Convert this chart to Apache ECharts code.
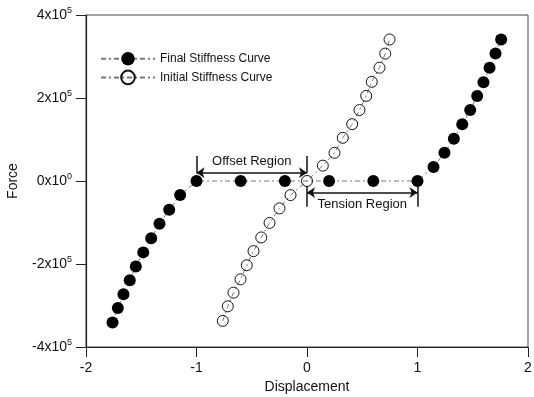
<!DOCTYPE html>
<html>
<head>
<meta charset="utf-8">
<script src="https://cdn.jsdelivr.net/npm/echarts@6/dist/echarts.min.js"></script>
<style>
  html, body { margin: 0; padding: 0; background: #fff; }
  #chart { width: 534px; height: 397px; }
</style>
</head>
<body>
<div id="chart"></div>
<script>
// Final stiffness curve (filled circles)
const finalX = [-1.760, -1.712, -1.661, -1.604, -1.549, -1.482, -1.410, -1.335, -1.247, -1.148, -1.0,
  -0.6, -0.2, 0.2, 0.6,
  1.0, 1.145, 1.244, 1.329, 1.405, 1.477, 1.540, 1.597, 1.652, 1.706, 1.757];
const finalY = [-341000, -306000, -273000, -239000, -206000, -172000, -138000, -103000, -69000, -34000, 0,
  0, 0, 0, 0,
  0, 34000, 68000, 102000, 137000, 171000, 205000, 238000, 273000, 307000, 341000];

// Initial stiffness curve (open circles)
const initialX = [-0.762, -0.717, -0.665, -0.602, -0.545, -0.484, -0.414, -0.339, -0.249, -0.149, 0,
  0.143, 0.249, 0.324, 0.409, 0.475, 0.536, 0.586, 0.656, 0.708, 0.747];
const initialY = [-337000, -302000, -269000, -237000, -203000, -169000, -136000, -101000, -66000, -34000, 0,
  37000, 68000, 104000, 137000, 171000, 205000, 239000, 273000, 307000, 341000];

const xTicks = [-2, -1, 0, 1, 2];
const yTicks = [-400000, -200000, 0, 200000, 400000];

const zip = (xs, ys) => xs.map((x, i) => [x, ys[i]]);

const FONT = 'Liberation Sans, Arial, sans-serif';

function yLabel(v) {
  if (v === 0) return '{b|0x10}{s|0}';
  const m = v / 100000;
  return '{b|' + m + 'x10}{s|5}';
}

const tick = (x, y1, y2) => [
  { coord: [x, y1], symbol: 'none' },
  { coord: [x, y2], symbol: 'none' }
];

const option = {
  animation: false,
  backgroundColor: '#fff',
  textStyle: { fontFamily: FONT },
  grid: {
    left: 86, right: 6, top: 15, bottom: 50,
    outerBoundsMode: 'none',
    show: true, borderColor: '#444', borderWidth: 1
  },
  legend: {
    orient: 'vertical',
    left: 95, top: 47,
    itemWidth: 54, itemHeight: 17, itemGap: 4,
    textStyle: { fontSize: 12, color: '#111', fontFamily: FONT },
    data: ['Final Stiffness Curve', 'Initial Stiffness Curve']
  },
  xAxis: {
    type: 'value',
    min: -2, max: 2, interval: 1,
    name: 'Displacement', nameLocation: 'middle', nameGap: 30,
    nameTextStyle: { fontSize: 14, color: '#111', fontFamily: FONT },
    axisLine: { onZero: false, lineStyle: { color: '#222', width: 1.2 } },
    axisTick: { inside: false, length: 10, lineStyle: { color: '#222' } },
    axisLabel: {
      fontSize: 14, color: '#111', margin: 14, fontFamily: FONT,
      customValues: xTicks
    },
    splitLine: { show: false }
  },
  yAxis: {
    type: 'value',
    min: -400000, max: 400000, interval: 200000,
    name: 'Force', nameLocation: 'middle', nameGap: 66,
    nameTextStyle: { fontSize: 14, color: '#111', fontFamily: FONT },
    axisLine: { onZero: false, lineStyle: { color: '#222', width: 1.2 } },
    axisTick: { inside: false, length: 10, lineStyle: { color: '#222' } },
    axisLabel: {
      margin: 14, formatter: yLabel,
      rich: {
        b: { fontSize: 14, color: '#111', fontFamily: FONT },
        s: { fontSize: 9, color: '#111', fontFamily: FONT, verticalAlign: 'top', padding: [0, 0, 8, 0] }
      }
    },
    splitLine: { show: false }
  },
  series: [
    {
      name: 'Final Stiffness Curve',
      type: 'line',
      data: zip(finalX, finalY),
      symbol: 'circle',
      symbolSize: 12,
      itemStyle: { color: '#000', borderColor: '#000', borderWidth: 0 },
      lineStyle: { color: '#777', width: 1, type: [5, 3, 2, 3] },
      z: 3,
      markLine: {
        silent: true,
        symbol: ['none', 'none'],
        symbolSize: 8,
        lineStyle: { color: '#111', width: 1.5, type: 'solid' },
        label: { show: false },
        data: [
          [
            { coord: [-1, 20000], symbol: 'arrow' },
            {
              coord: [0, 20000], symbol: 'arrow',
              label: {
                show: true, position: 'insideMiddleTop', formatter: 'Offset Region',
                fontSize: 13, color: '#111', fontFamily: FONT, distance: 5
              }
            }
          ],
          tick(-1, 20000, 60000),
          tick(0, 20000, 60000),
          [
            { coord: [0, -28000], symbol: 'arrow' },
            {
              coord: [1, -28000], symbol: 'arrow',
              label: {
                show: true, position: 'insideMiddleBottom', formatter: 'Tension Region',
                fontSize: 13, color: '#111', fontFamily: FONT, distance: 5
              }
            }
          ],
          tick(0, -14000, -62000),
          tick(1, -14000, -62000)
        ]
      }
    },
    {
      name: 'Initial Stiffness Curve',
      type: 'line',
      data: zip(initialX, initialY),
      symbol: 'circle',
      symbolSize: 11,
      itemStyle: { color: 'rgba(255,255,255,0)', borderColor: '#111', borderWidth: 1 },
      lineStyle: { color: '#777', width: 1, type: [5, 3, 2, 3] },
      z: 4
    }
  ]
};

const chart = echarts.init(document.getElementById('chart'));
chart.setOption(option);
</script>
</body>
</html>
